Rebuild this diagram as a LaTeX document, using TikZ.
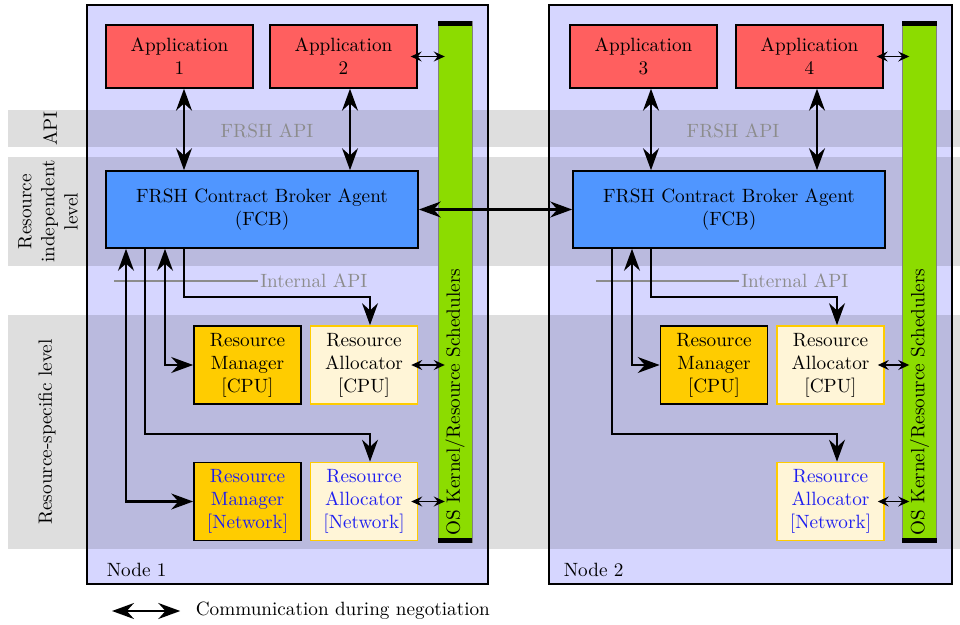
\documentclass[tikz,border=0pt]{standalone}
\usepackage{tikz}
\usetikzlibrary{arrows.meta}
\usetikzlibrary{calc}

\definecolor{nodebg}{RGB}{214,214,255}
\definecolor{appred}{RGB}{255,95,95}
\definecolor{fcbblue}{RGB}{80,150,255}
\definecolor{mgrgold}{RGB}{255,204,0}
\definecolor{alloccream}{RGB}{255,245,215}
\definecolor{osgreen}{RGB}{140,220,0}
\definecolor{apigray}{RGB}{140,140,140}
\definecolor{netblue}{RGB}{30,30,240}

\tikzset{
    hostbox/.style={draw, line width=1.3pt, fill=nodebg},
    band/.style={fill=black, fill opacity=0.13},
    appbox/.style={draw, line width=0.8pt, fill=appred, align=center,
        minimum width=2.69cm, minimum height=1.15cm},
    fcbbox/.style={draw, line width=0.8pt, fill=fcbblue, align=center,
        minimum width=5.71cm, minimum height=1.41cm},
    mgrbox/.style={draw, line width=0.8pt, fill=mgrgold, align=center,
        minimum width=1.96cm, minimum height=1.43cm, inner sep=1pt},
    allocbox/.style={draw=mgrgold, line width=0.8pt, fill=alloccream,
        align=center, minimum width=1.96cm, minimum height=1.43cm, inner sep=1pt},
    osbar/.style={draw=gray, line width=0.4pt, fill=osgreen,
        minimum width=0.62cm, minimum height=9.52cm},
    bighead/.tip={Stealth[length=4mm,width=2.9mm,inset=1.3mm]},
    smallhead/.tip={Stealth[length=2mm,width=1.8mm,inset=0.7mm]},
    comm/.style={line width=1.4pt, -bighead},
    negot/.style={line width=1.4pt, bighead-bighead},
    syscall/.style={line width=0.8pt, smallhead-smallhead,
        shorten <=-0.13cm, shorten >=-0.13cm},
    apiline/.style={draw=apigray, line width=1.2pt},
    apilabel/.style={text=apigray}
}

\begin{document}
\begin{tikzpicture}[x=0.0183cm, y=-0.0183cm]
    \useasboundingbox (0,0) rectangle (960,625);

    \draw[hostbox] (87,5) rectangle (488,584);
    \draw[hostbox] (549,5) rectangle (952,584);

    \fill[band] (8,110) rectangle (960,147);
    \fill[band] (8,157) rectangle (960,266);
    \fill[band] (8,315) rectangle (960,549);

    \node[rotate=90] (apiband) at (50,128.5) {API};
    \node[rotate=90, align=center] (indepband) at (48,211.5)
        {Resource\\independent\\level};
    \node[rotate=90] (specband) at (47,432) {Resource-specific level};

    \node[apilabel] (frshA) at (267,131) {FRSH API};
    \node[apilabel] (frshB) at (733,131) {FRSH API};
    \node[apilabel, anchor=west, inner sep=1pt] (iapiA) at (258,281) {Internal API};
    \node[apilabel, anchor=west, inner sep=1pt] (iapiB) at (739,281) {Internal API};
    \draw[apiline] (114,281) -- (iapiA.west);
    \draw[apiline] (596,281) -- (iapiB.west);

    \node[anchor=base west] (hostA) at (100,576) {Node 1};
    \node[anchor=base west] (hostB) at (557,576) {Node 2};

    \node[osbar] (osA) at (455,282) {};
    \node[osbar] (osB) at (919.5,282) {};
    \foreach \os in {osA,osB} {
        \fill (\os.north west) rectangle ([yshift=-0.09cm]\os.north east);
        \fill (\os.south west) rectangle ([yshift=0.09cm]\os.south east);
        \node[rotate=90, anchor=west] at (\os.south) {OS Kernel/Resource Schedulers};
    }

    \node[appbox] (appA) at (179.5,56.5) {Application\\1};
    \node[appbox] (appB) at (343.5,56.5) {Application\\2};
    \node[appbox] (appC) at (643.5,56.5) {Application\\3};
    \node[appbox] (appD) at (809.5,56.5) {Application\\4};

    \node[fcbbox] (fcbA) at (262,209.5) {FRSH Contract Broker Agent\\(FCB)};
    \node[fcbbox] (fcbB) at (729,209.5) {FRSH Contract Broker Agent\\(FCB)};

    \node[mgrbox] (rmCpuA) at (247.5,365) {Resource\\Manager\\{[CPU]}};
    \node[allocbox] (raCpuA) at (364,365) {Resource\\Allocator\\{[CPU]}};
    \node[mgrbox, text=netblue] (rmNetA) at (247.5,501.5) {Resource\\Manager\\{[Network]}};
    \node[allocbox, text=netblue] (raNetA) at (364,501.5) {Resource\\Allocator\\{[Network]}};
    \node[mgrbox] (rmCpuB) at (714,365) {Resource\\Manager\\{[CPU]}};
    \node[allocbox] (raCpuB) at (830.5,365) {Resource\\Allocator\\{[CPU]}};
    \node[allocbox, text=netblue] (raNetB) at (830.5,501.5) {Resource\\Allocator\\{[Network]}};

    \draw[negot] (appA.south -| 184,0) -- (fcbA.north -| 184,0);
    \draw[negot] (appB.south -| 350,0) -- (fcbA.north -| 350,0);
    \draw[negot] (appC.south -| 651,0) -- (fcbB.north -| 651,0);
    \draw[negot] (appD.south -| 817,0) -- (fcbB.north -| 817,0);
    \draw[negot] (fcbA.east) -- (fcbB.west);

    \draw[comm] (fcbA.south -| 184,0) |- (370,297) -- (raCpuA.north -| 370,0);
    \draw[negot] (fcbA.south -| 165,0) |- (rmCpuA.west);
    \draw[comm] (fcbA.south -| 145,0) |- (370,434) -- (raNetA.north -| 370,0);
    \draw[negot] (fcbA.south -| 126,0) |- (rmNetA.west);

    \draw[comm] (fcbB.south -| 651,0) |- (837,297) -- (raCpuB.north -| 837,0);
    \draw[negot] (fcbB.south -| 632,0) |- (rmCpuB.west);
    \draw[comm] (fcbB.south -| 612,0) |- (837,434) -- (raNetB.north -| 837,0);

    \draw[syscall] (appB.east) -- (osA.west |- appB.east);
    \draw[syscall] (raCpuA.east) -- (osA.west |- raCpuA.east);
    \draw[syscall] (raNetA.east) -- (osA.west |- raNetA.east);
    \draw[syscall] (appD.east) -- (osB.west |- appD.east);
    \draw[syscall] (raCpuB.east) -- (osB.west |- raCpuB.east);
    \draw[syscall] (raNetB.east) -- (osB.west |- raNetB.east);

    \node[anchor=west] (legtext) at (189,611) {Communication during negotiation};
    \coordinate (legend) at (112,611);
    \draw[negot] (legend) -- ([xshift=-0.16cm]legtext.west);
\end{tikzpicture}
\end{document}
